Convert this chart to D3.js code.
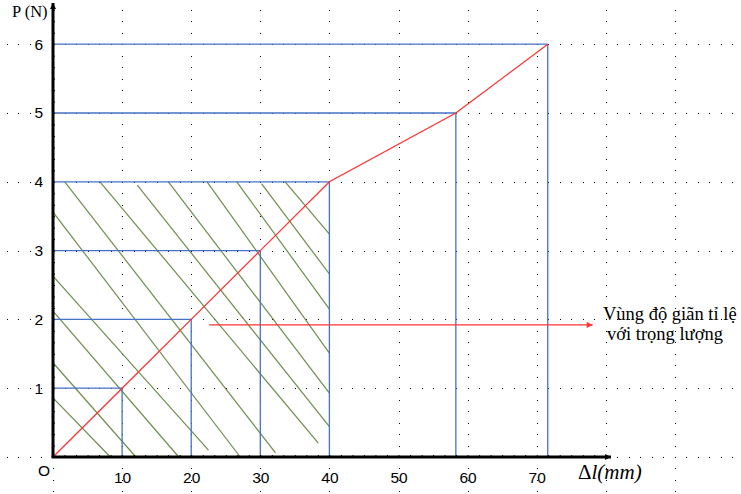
<!DOCTYPE html>
<html>
<head>
<meta charset="utf-8">
<script src="https://cdn.jsdelivr.net/npm/d3@7"></script>
<style>
  html, body { margin: 0; padding: 0; background: #fff; }
  svg { display: block; }
</style>
</head>
<body>
<script>
// ---------- data ----------
const stretch = [0, 10, 20, 30, 40, 58.3, 71.6]; // Δl (mm)
const load = [0, 1, 2, 3, 4, 5, 6]; // P (N)
const xTicks = [10, 20, 30, 40, 50, 60, 70];
const yTicks = [1, 2, 3, 4, 5, 6];
const gridCols = [0, 10, 20, 30, 40, 50, 60, 70, 80, 90];
const gridRows = [0, 1, 2, 3, 4, 5, 6];
// hand drawn hatching of the proportional zone, [mm, N]
const hatchFrom = [[0, 0.86], [0, 1.37], [0, 2.12], [0, 2.63], [0, 3.56], [1.7, 4], [6.8, 4],
  [12.2, 3.95], [16.7, 4], [22.3, 4], [26.6, 4], [30.2, 3.97], [33.6, 4]];
const hatchTo = [[8.3, 0], [12.0, 0], [18.2, 0], [22.5, 0.1], [27.1, 0], [32.2, 0.06], [38.4, 0.2],
  [40, 0.44], [40, 0.93], [40, 1.51], [40, 2.15], [40, 2.66], [40, 3.24]];
const noteArrow = [[22.6, 1.92], [78.1, 1.92]];
const noteLines = ['Vùng độ giãn tỉ lệ', 'với trọng lượng'];

const WIDTH = 741;
const HEIGHT = 494;
const BLUE = '#4472c4';
const RED = '#ff3333';
const GREEN = '#6b8e4e';
const SERIF = '"Liberation Serif", "Times New Roman", serif';
const SANS = '"Liberation Sans", Arial, sans-serif';

const x = d3.scaleLinear().domain([0, 100]).range([53, 53 + 691]);
const y = d3.scaleLinear().domain([0, 7]).range([457, 457 - 7 * 68.8]);

const svg = d3.select('body').append('svg')
  .attr('width', WIDTH)
  .attr('height', HEIGHT)
  .style('background', '#fff');

const defs = svg.append('defs');
const marker = (id, color) => {
  defs.append('marker')
    .attr('id', id)
    .attr('viewBox', '0 0 10 10')
    .attr('refX', 10).attr('refY', 5)
    .attr('markerUnits', 'userSpaceOnUse')
    .attr('markerWidth', 7).attr('markerHeight', 6)
    .attr('orient', 'auto')
    .append('path')
    .attr('d', 'M0,0L10,5L0,10Z')
    .attr('fill', color);
};
marker('arrBlack', '#000');
marker('arrRed', RED);

// ---------- dotted grid ----------
const dots = svg.append('g').attr('fill', '#000');
const stepX = 10 / 6;
const stepY = 1 / 6;
gridCols.forEach(c => {
  d3.range(-4, 44).forEach(k => {
    const py = y(k * stepY);
    if (py < 0 || py > HEIGHT) return;
    dots.append('rect')
      .attr('x', Math.round(x(c)))
      .attr('y', Math.round(py))
      .attr('width', 1).attr('height', 1);
  });
});
gridRows.forEach(r => {
  d3.range(-5, 62).forEach(k => {
    const px = x(k * stepX);
    if (px < 0 || px > WIDTH) return;
    dots.append('rect')
      .attr('x', Math.round(px))
      .attr('y', Math.round(y(r)))
      .attr('width', 1).attr('height', 1);
  });
});

// ---------- hatching ----------
svg.append('g')
  .attr('stroke', GREEN)
  .attr('stroke-width', 1.2)
  .selectAll('line')
  .data(d3.zip(hatchFrom, hatchTo))
  .join('line')
  .attr('x1', d => x(d[0][0]))
  .attr('y1', d => y(d[0][1]))
  .attr('x2', d => x(d[1][0]))
  .attr('y2', d => y(d[1][1]));

// ---------- guide lines ----------
const points = d3.zip(stretch, load).filter(d => d[1] > 0);
const guides = svg.append('g').attr('stroke', BLUE).attr('stroke-width', 1.3);
guides.selectAll('.h').data(points).join('line')
  .attr('x1', x(0)).attr('x2', d => x(d[0]))
  .attr('y1', d => y(d[1])).attr('y2', d => y(d[1]));
guides.selectAll('.v').data(points).join('line')
  .attr('x1', d => x(d[0])).attr('x2', d => x(d[0]))
  .attr('y1', d => y(d[1])).attr('y2', y(0));

// ---------- curve ----------
svg.append('path')
  .datum(d3.zip(stretch, load))
  .attr('fill', 'none')
  .attr('stroke', RED)
  .attr('stroke-width', 1.3)
  .attr('d', d3.line().x(d => x(d[0])).y(d => y(d[1])));

// ---------- note ----------
svg.append('line')
  .attr('x1', x(noteArrow[0][0])).attr('y1', y(noteArrow[0][1]))
  .attr('x2', x(noteArrow[1][0])).attr('y2', y(noteArrow[1][1]))
  .attr('stroke', RED).attr('stroke-width', 1.3)
  .attr('marker-end', 'url(#arrRed)');

svg.append('g')
  .attr('font-family', SERIF)
  .attr('font-size', 18.5)
  .selectAll('text')
  .data(noteLines)
  .join('text')
  .attr('x', (d, i) => 603 + i * 4)
  .attr('y', (d, i) => 320 + i * 20)
  .text(d => d);

// ---------- axes ----------
const minorY = svg.append('g')
  .attr('transform', `translate(${x(0)},0)`)
  .call(d3.axisRight(y).tickValues(d3.range(1, 40).map(k => k * stepY)).tickSize(2).tickFormat(''));
const minorX = svg.append('g')
  .attr('transform', `translate(0,${y(0)})`)
  .call(d3.axisTop(x).tickValues(d3.range(1, 49).map(k => k * stepX)).tickSize(2).tickFormat(''));
[minorX, minorY].forEach(g => {
  g.select('.domain').remove();
  g.selectAll('line').attr('stroke', '#000').attr('stroke-width', 1);
});

const yAxis = svg.append('g')
  .attr('transform', `translate(${x(0)},0)`)
  .call(d3.axisLeft(y).tickValues(yTicks).tickSize(0).tickPadding(10).tickFormat(d3.format('d')));
const xAxis = svg.append('g')
  .attr('transform', `translate(0,${y(0)})`)
  .call(d3.axisBottom(x).tickValues(xTicks).tickSize(0).tickPadding(15).tickFormat(d3.format('d')));
[xAxis, yAxis].forEach(g => {
  g.select('.domain').remove();
  g.selectAll('text')
    .attr('font-family', SANS)
    .attr('font-size', 15.5)
    .attr('fill', '#000');
});

svg.append('line')
  .attr('x1', x(0)).attr('y1', y(0))
  .attr('x2', x(0)).attr('y2', 3)
  .attr('stroke', '#000').attr('stroke-width', 3)
  .attr('marker-end', 'url(#arrBlack)');
svg.append('line')
  .attr('x1', x(0) - 1.5).attr('y1', y(0))
  .attr('x2', 611).attr('y2', y(0))
  .attr('stroke', '#000').attr('stroke-width', 3)
  .attr('marker-end', 'url(#arrBlack)');

// ---------- labels ----------
svg.append('text')
  .attr('x', 38).attr('y', 476)
  .attr('font-family', SANS).attr('font-size', 15.5)
  .text('O');

svg.append('text')
  .attr('x', 12).attr('y', 17)
  .attr('font-family', SERIF).attr('font-size', 16.5)
  .text('P (N)');

const xLabel = svg.append('text')
  .attr('x', 578).attr('y', 479)
  .attr('font-family', SERIF).attr('font-size', 21);
xLabel.append('tspan').text('Δ');
xLabel.append('tspan').attr('font-style', 'italic').text('l(mm)');
</script>
</body>
</html>
